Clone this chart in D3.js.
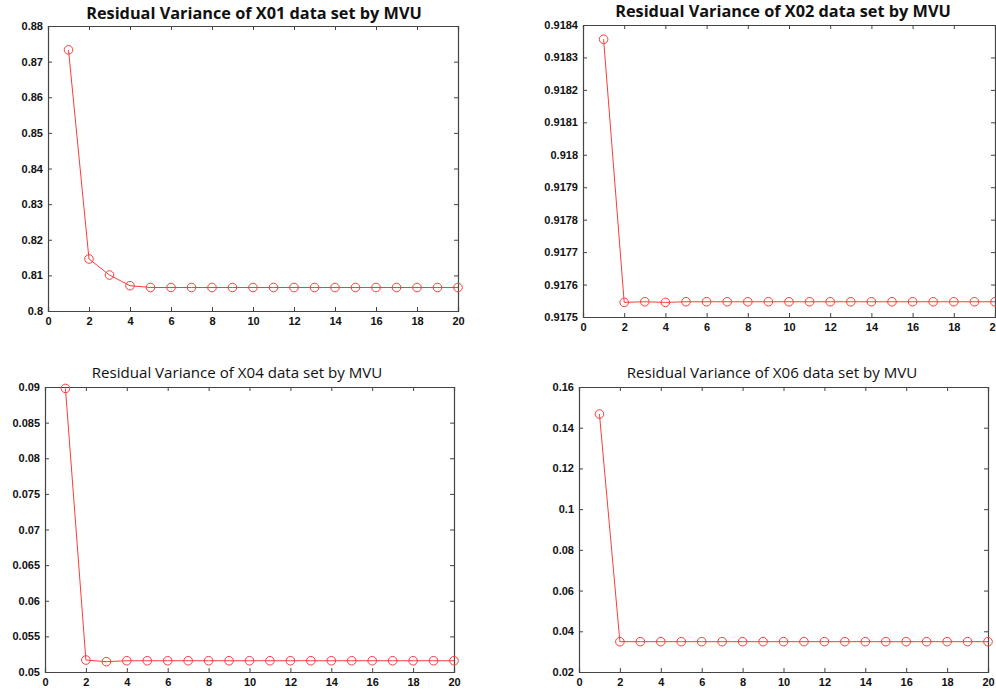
<!DOCTYPE html>
<html>
<head>
<meta charset="utf-8">
<script src="https://cdn.jsdelivr.net/npm/d3@7"></script>
<style>
  body { margin: 0; background: #fff; }
  .tick text { font-family: "Liberation Sans", Arial, sans-serif; font-weight: bold; font-size: 11px; fill: #111; }
</style>
</head>
<body>
<div id="chart"></div>
<script>
// Residual variance by MVU, four data sets

const dims = [1, 2, 3, 4, 5, 6, 7, 8, 9, 10, 11, 12, 13, 14, 15, 16, 17, 18, 19, 20];
const xTicks = [0, 2, 4, 6, 8, 10, 12, 14, 16, 18, 20];

const x01 = [0.8733, 0.8146, 0.8101, 0.8071, 0.8066, 0.8066, 0.8066, 0.8066, 0.8066, 0.8066,
             0.8066, 0.8066, 0.8066, 0.8066, 0.8066, 0.8066, 0.8066, 0.8066, 0.8066, 0.8066];
const x02 = [0.918356, 0.917545, 0.917547, 0.917545, 0.917547, 0.917547, 0.917547, 0.917547, 0.917547, 0.917547,
             0.917547, 0.917547, 0.917547, 0.917547, 0.917547, 0.917547, 0.917547, 0.917547, 0.917547, 0.917547];
const x04 = [0.0898, 0.05168, 0.05145, 0.05158, 0.05158, 0.05158, 0.05158, 0.05158, 0.05158, 0.05158,
             0.05158, 0.05158, 0.05158, 0.05158, 0.05158, 0.05158, 0.05158, 0.05158, 0.05158, 0.05158];
const x06 = [0.1467, 0.0349, 0.0349, 0.0349, 0.0349, 0.0349, 0.0349, 0.0349, 0.0349, 0.0349,
             0.0349, 0.0349, 0.0349, 0.0349, 0.0349, 0.0349, 0.0349, 0.0349, 0.0349, 0.0349];

const yTicks01 = [0.8, 0.81, 0.82, 0.83, 0.84, 0.85, 0.86, 0.87, 0.88];
const yTicks02 = [0.9175, 0.9176, 0.9177, 0.9178, 0.9179, 0.918, 0.9181, 0.9182, 0.9183, 0.9184];
const yTicks04 = [0.05, 0.055, 0.06, 0.065, 0.07, 0.075, 0.08, 0.085, 0.09];
const yTicks06 = [0.02, 0.04, 0.06, 0.08, 0.1, 0.12, 0.14, 0.16];

const titles = [
    "Residual Variance of X01 data set by MVU",
    "Residual Variance of X02 data set by MVU",
    "Residual Variance of X04 data set by MVU",
    "Residual Variance of X06 data set by MVU"
];

const width = 996, height = 696;

let svg = d3.select("#chart")
    .append("svg")
    .attr("width", width)
    .attr("height", height);

// each panel: data, ticks and the box it is drawn in
const panels = [
    {title: titles[0], bold: true,  values: x01, ticks: yTicks01, left: 48,  right: 458, top: 26,  bottom: 311, titleX: 254, titleY: 19},
    {title: titles[1], bold: true,  values: x02, ticks: yTicks02, left: 583, right: 995, top: 25,  bottom: 317, titleX: 783, titleY: 17},
    {title: titles[2], bold: false, values: x04, ticks: yTicks04, left: 45,  right: 454, top: 387, bottom: 672, titleX: 237, titleY: 378},
    {title: titles[3], bold: false, values: x06, ticks: yTicks06, left: 579, right: 988, top: 387, bottom: 672, titleX: 772, titleY: 378}
];

const fmt = v => String(+v.toFixed(6));

for (let p of panels) {
    let g = svg.append("g");

    let x = d3.scaleLinear()
        .domain([0, 20])
        .range([p.left, p.right]);

    let y = d3.scaleLinear()
        .domain([p.ticks[0], p.ticks[p.ticks.length - 1]])
        .range([p.bottom, p.top]);

    // box with inward ticks on all four sides
    g.append("g")
        .attr("transform", `translate(0,${p.bottom})`)
        .call(d3.axisBottom(x).tickValues(xTicks).tickSize(-4).tickPadding(6).tickFormat(d3.format("d")));
    g.append("g")
        .attr("transform", `translate(0,${p.top})`)
        .call(d3.axisTop(x).tickValues(xTicks).tickSize(-4).tickFormat(""));
    g.append("g")
        .attr("transform", `translate(${p.left},0)`)
        .call(d3.axisLeft(y).tickValues(p.ticks).tickSize(-4).tickPadding(5).tickFormat(fmt));
    g.append("g")
        .attr("transform", `translate(${p.right},0)`)
        .call(d3.axisRight(y).tickValues(p.ticks).tickSize(-4).tickFormat(""));

    g.selectAll(".domain").attr("stroke", "#444").attr("stroke-width", 1.2);
    g.selectAll(".tick line").attr("stroke", "#444");

    let pts = dims.map((d, i) => ({k: d, v: p.values[i]}));

    g.append("path")
        .datum(pts)
        .attr("fill", "none")
        .attr("stroke", "#ff3a3a")
        .attr("stroke-width", 1)
        .attr("d", d3.line().x(d => x(d.k)).y(d => y(d.v)));

    g.selectAll("circle")
        .data(pts)
        .join("circle")
        .attr("cx", d => x(d.k))
        .attr("cy", d => y(d.v))
        .attr("r", 4.3)
        .attr("fill", "none")
        .attr("stroke", "#ff3a3a")
        .attr("stroke-width", 1);

    g.append("text")
        .attr("x", p.titleX)
        .attr("y", p.titleY)
        .attr("text-anchor", "middle")
        .style("font-family", "'Open Sans', sans-serif")
        .style("font-weight", p.bold ? "bold" : "normal")
        .style("font-size", p.bold ? "16.3px" : "15.1px")
        .style("fill", "#111")
        .text(p.title);
}
</script>
</body>
</html>
